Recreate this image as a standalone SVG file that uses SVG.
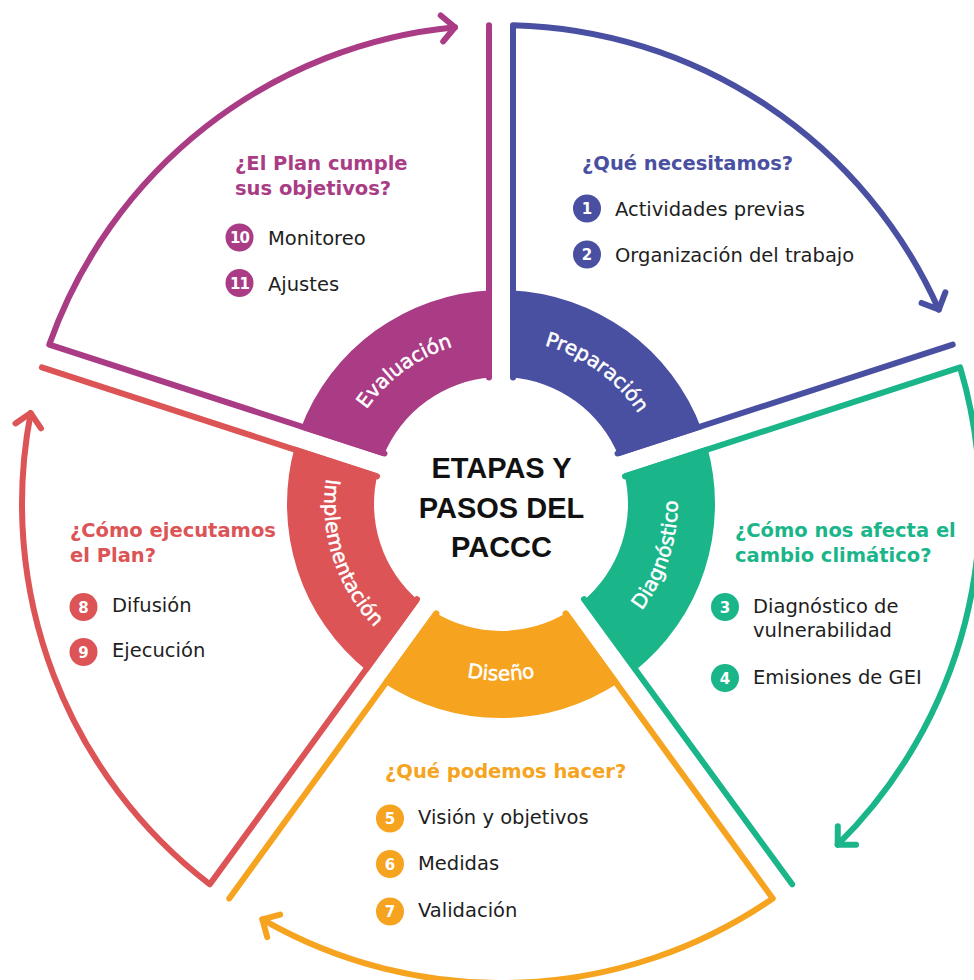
<svg xmlns="http://www.w3.org/2000/svg" width="974" height="980" viewBox="0 0 974 980">
<defs>
<style>
.ln{fill:none;stroke-width:6;stroke-linecap:round;stroke-linejoin:round}
.lbl{font-family:'DejaVu Sans',sans-serif;font-size:20px;fill:#fff;stroke:#fff;stroke-width:0.5}
.ttl{font-family:'DejaVu Sans',sans-serif;font-size:19.5px;font-weight:bold}
.itm{font-family:'DejaVu Sans',sans-serif;font-size:19.5px;fill:#1e1e1e}
.num{font-family:'DejaVu Sans',sans-serif;font-size:15px;font-weight:bold;fill:#fff;text-anchor:middle}
.ctr{font-family:'Liberation Sans',Arial,sans-serif;font-size:29px;font-weight:bold;fill:#111;text-anchor:middle}
</style>
<marker id="ah-mag" markerUnits="userSpaceOnUse" markerWidth="40" markerHeight="40" refX="0" refY="0" orient="auto" overflow="visible"><path d="M-13,-13 L0,0 L-13,13" fill="none" stroke="#A93C85" stroke-width="6" stroke-linecap="round" stroke-linejoin="round"/></marker>
<marker id="ah-blu" markerUnits="userSpaceOnUse" markerWidth="40" markerHeight="40" refX="0" refY="0" orient="auto" overflow="visible"><path d="M-13,-13 L0,0 L-13,13" fill="none" stroke="#4A50A1" stroke-width="6" stroke-linecap="round" stroke-linejoin="round"/></marker>
<marker id="ah-grn" markerUnits="userSpaceOnUse" markerWidth="40" markerHeight="40" refX="0" refY="0" orient="auto" overflow="visible"><path d="M-13,-13 L0,0 L-13,13" fill="none" stroke="#1BB58A" stroke-width="6" stroke-linecap="round" stroke-linejoin="round"/></marker>
<marker id="ah-org" markerUnits="userSpaceOnUse" markerWidth="40" markerHeight="40" refX="0" refY="0" orient="auto" overflow="visible"><path d="M-13,-13 L0,0 L-13,13" fill="none" stroke="#F6A320" stroke-width="6" stroke-linecap="round" stroke-linejoin="round"/></marker>
<marker id="ah-red" markerUnits="userSpaceOnUse" markerWidth="40" markerHeight="40" refX="0" refY="0" orient="auto" overflow="visible"><path d="M-13,-13 L0,0 L-13,13" fill="none" stroke="#DC5456" stroke-width="6" stroke-linecap="round" stroke-linejoin="round"/></marker>
<path id="arc-eval" d="M337.40,521.20 A164.5,164.5 0 0 1 567.91,353.72"/>
<path id="arc-prep" d="M434.09,353.72 A164.5,164.5 0 0 1 664.60,521.20"/>
<path id="arc-diag" d="M537.70,676.64 A176.5,176.5 0 0 0 632.16,385.90"/>
<path id="arc-dise" d="M348.15,592.25 A176.5,176.5 0 0 0 653.85,592.25"/>
<path id="arc-impl" d="M369.84,385.90 A176.5,176.5 0 0 0 464.30,676.64"/>
</defs>
<rect width="974" height="980" fill="#fff"/>

<g id="connectors">
  <path class="ln" stroke="#A93C85" d="M384.47,453.52 L49.29,344.61 A479,479 0 0 1 454.92,27.22" marker-end="url(#ah-mag)"/>
  <path class="ln" stroke="#A93C85" d="M489,377.57 L489,25.15"/>
  <path class="ln" stroke="#4A50A1" d="M513,377.57 L513,25.15 A479,479 0 0 1 938.75,309.56" marker-end="url(#ah-blu)"/>
  <path class="ln" stroke="#4A50A1" d="M617.53,453.52 L952.71,344.61"/>
  <path class="ln" stroke="#1BB58A" d="M624.95,476.34 L960.13,367.43 A479,479 0 0 1 837.68,844.71" marker-end="url(#ah-grn)"/>
  <path class="ln" stroke="#1BB58A" d="M584.03,599.23 L792.17,884.35"/>
  <path class="ln" stroke="#F6A320" d="M565.61,613.33 L772.75,898.45 A479,479 0 0 1 262.37,919.33" marker-end="url(#ah-org)"/>
  <path class="ln" stroke="#F6A320" d="M436.39,613.33 L229.25,898.45"/>
  <path class="ln" stroke="#DC5456" d="M416.97,599.23 L209.83,884.35 A479,479 0 0 1 30.70,413.10" marker-end="url(#ah-red)"/>
  <path class="ln" stroke="#DC5456" d="M377.05,476.34 L41.87,367.43"/>
</g>

<g id="preparacion">
  <path fill="#4A50A1" d="M510,377.32 L510,290.19 A214,214 0 0 1 701.57,429.37 L618.70,456.29 A127,127 0 0 0 510,377.32 Z"/>
  <text class="lbl"><textPath href="#arc-prep" startOffset="50%" text-anchor="middle">Preparación</textPath></text>
  <text class="ttl" fill="#4A50A1" x="582" y="170">¿Qué necesitamos?</text>
  <circle cx="587" cy="208.5" r="14" fill="#4A50A1"/><text class="num" x="587" y="214">1</text>
  <text class="itm" x="615" y="216">Actividades previas</text>
  <circle cx="587" cy="254.5" r="14" fill="#4A50A1"/><text class="num" x="587" y="260">2</text>
  <text class="itm" x="615" y="262">Organización del trabajo</text>
</g>

<g id="diagnostico">
  <path fill="#1BB58A" d="M624.26,473.41 L707.13,446.49 A214,214 0 0 1 633.96,671.69 L582.74,601.20 A127,127 0 0 0 624.26,473.41 Z"/>
  <text class="lbl"><textPath href="#arc-diag" startOffset="50%" text-anchor="middle">Diagnóstico</textPath></text>
  <text class="ttl" fill="#1BB58A" x="735" y="537">¿Cómo nos afecta el</text>
  <text class="ttl" fill="#1BB58A" x="735" y="562">cambio climático?</text>
  <circle cx="725" cy="607" r="14" fill="#1BB58A"/><text class="num" x="725" y="612.5">3</text>
  <text class="itm" x="753" y="613">Diagnóstico de</text>
  <text class="itm" x="753" y="637">vulnerabilidad</text>
  <circle cx="725" cy="678" r="14" fill="#1BB58A"/><text class="num" x="725" y="683.5">4</text>
  <text class="itm" x="753" y="684">Emisiones de GEI</text>
</g>

<g id="diseno">
  <path fill="#F6A320" d="M568.18,611.78 L619.40,682.27 A214,214 0 0 1 382.60,682.27 L433.82,611.78 A127,127 0 0 0 568.18,611.78 Z"/>
  <text class="lbl"><textPath href="#arc-dise" startOffset="50%" text-anchor="middle">Diseño</textPath></text>
  <text class="ttl" fill="#F6A320" x="385" y="778">¿Qué podemos hacer?</text>
  <circle cx="390" cy="818.5" r="14" fill="#F6A320"/><text class="num" x="390" y="824">5</text>
  <text class="itm" x="418" y="824">Visión y objetivos</text>
  <circle cx="390" cy="864" r="14" fill="#F6A320"/><text class="num" x="390" y="869.5">6</text>
  <text class="itm" x="418" y="870">Medidas</text>
  <circle cx="390" cy="911.5" r="14" fill="#F6A320"/><text class="num" x="390" y="917">7</text>
  <text class="itm" x="418" y="917">Validación</text>
</g>

<g id="implementacion">
  <path fill="#DC5456" d="M419.26,601.20 L368.04,671.69 A214,214 0 0 1 294.87,446.49 L377.74,473.41 A127,127 0 0 0 419.26,601.20 Z"/>
  <text class="lbl"><textPath href="#arc-impl" startOffset="50%" text-anchor="middle">Implementación</textPath></text>
  <text class="ttl" fill="#DC5456" x="70" y="537">¿Cómo ejecutamos</text>
  <text class="ttl" fill="#DC5456" x="70" y="562">el Plan?</text>
  <circle cx="83.5" cy="607" r="14" fill="#DC5456"/><text class="num" x="83.5" y="612.5">8</text>
  <text class="itm" x="112" y="612">Difusión</text>
  <circle cx="83.5" cy="652" r="14" fill="#DC5456"/><text class="num" x="83.5" y="657.5">9</text>
  <text class="itm" x="112" y="657">Ejecución</text>
</g>

<g id="evaluacion">
  <path fill="#A93C85" d="M383.30,456.29 L300.43,429.37 A214,214 0 0 1 492,290.19 L492,377.32 A127,127 0 0 0 383.30,456.29 Z"/>
  <text class="lbl"><textPath href="#arc-eval" startOffset="50%" text-anchor="middle">Evaluación</textPath></text>
  <text class="ttl" fill="#A93C85" x="235" y="170">¿El Plan cumple</text>
  <text class="ttl" fill="#A93C85" x="235" y="195">sus objetivos?</text>
  <circle cx="239.5" cy="237.5" r="14" fill="#A93C85"/><text class="num" x="239.5" y="243" letter-spacing="-1">10</text>
  <text class="itm" x="268" y="245">Monitoreo</text>
  <circle cx="239.5" cy="283" r="14" fill="#A93C85"/><text class="num" x="239.5" y="288.5" letter-spacing="-1">11</text>
  <text class="itm" x="268" y="291">Ajustes</text>
</g>

<g id="centro">
  <text class="ctr" x="501.5" y="478">ETAPAS Y</text>
  <text class="ctr" x="501.5" y="518">PASOS DEL</text>
  <text class="ctr" x="501.5" y="557">PACCC</text>
</g>
</svg>
